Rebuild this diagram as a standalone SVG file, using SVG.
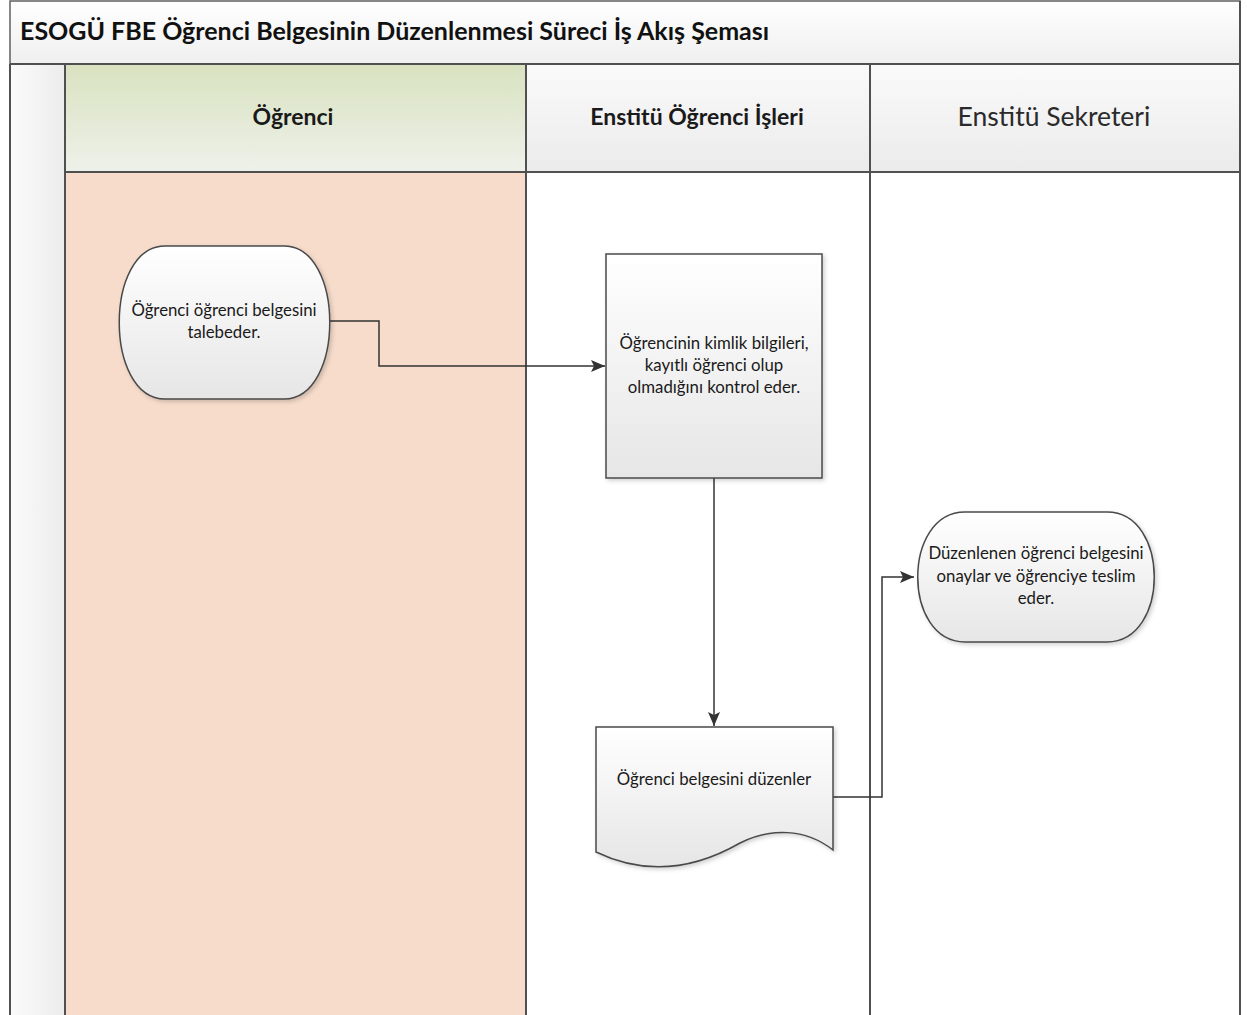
<svg xmlns="http://www.w3.org/2000/svg" width="1247" height="1015" viewBox="0 0 1247 1015">
  <style>
    .lane-line { stroke: #505050; stroke-width: 2; fill: none; }
    .shape { fill: url(#shapeFill); stroke: #4a4a4a; stroke-width: 1.5; filter: url(#shadow); }
    .label { font-family: Lato, "Open Sans", "DejaVu Sans", sans-serif; font-size: 16.8px; fill: #1a1a1a; text-anchor: middle; }
    .head { font-family: Lato, "Open Sans", "DejaVu Sans", sans-serif; font-size: 23px; fill: #1a1a1a; text-anchor: middle; }
    .head-light { font-size: 26.5px; fill: #2a2a2a; }
    .title { font-family: Lato, "Open Sans", "DejaVu Sans", sans-serif; font-size: 25px; font-weight: bold; fill: #111; }
    .conn { stroke: #333; stroke-width: 1.5; fill: none; marker-end: url(#arrow); }
  </style>
  <defs>
    <linearGradient id="shapeFill" x1="0" y1="0" x2="0" y2="1">
      <stop offset="0" stop-color="#ffffff"/>
      <stop offset="1" stop-color="#e6e6e6"/>
    </linearGradient>
    <linearGradient id="greyHead" x1="0" y1="0" x2="0" y2="1">
      <stop offset="0" stop-color="#fafafa"/>
      <stop offset="1" stop-color="#ebebeb"/>
    </linearGradient>
    <linearGradient id="greenHead" x1="0" y1="0" x2="0" y2="1">
      <stop offset="0" stop-color="#d8e2bf"/>
      <stop offset="1" stop-color="#eef1ea"/>
    </linearGradient>
    <linearGradient id="sideStrip" x1="0" y1="0" x2="1" y2="0">
      <stop offset="0" stop-color="#fbfbfb"/>
      <stop offset="1" stop-color="#ececec"/>
    </linearGradient>
    <linearGradient id="titleFill" x1="0" y1="0" x2="0" y2="1">
      <stop offset="0" stop-color="#ffffff"/>
      <stop offset="1" stop-color="#efefef"/>
    </linearGradient>
    <filter id="shadow" x="-10%" y="-10%" width="125%" height="125%">
      <feDropShadow dx="2" dy="2" stdDeviation="2" flood-color="#000" flood-opacity="0.18"/>
    </filter>
    <marker id="arrow" viewBox="0 0 14 12" refX="14" refY="6" markerWidth="14" markerHeight="12" markerUnits="userSpaceOnUse" orient="auto">
      <path d="M0,0 L14,6 L0,12 L3,6 Z" fill="#333"/>
    </marker>
  </defs>

  <!-- page background -->
  <rect x="0" y="0" width="1247" height="1015" fill="#ffffff"/>

  <!-- title bar -->
  <g id="title-bar">
    <rect x="10" y="1" width="1230" height="63" fill="url(#titleFill)" stroke="#606060" stroke-width="1.5"/>
    <text class="title" x="20" y="40">ESOGÜ FBE Öğrenci Belgesinin Düzenlenmesi Süreci İş Akış Şeması</text>
  </g>

  <!-- swimlanes -->
  <g id="lanes">
    <rect x="10" y="64" width="55" height="960" fill="url(#sideStrip)"/>
    <rect x="65" y="172" width="461" height="850" fill="#f7dccb"/>
    <rect x="526" y="172" width="344" height="850" fill="#ffffff"/>
    <rect x="870" y="172" width="370" height="850" fill="#ffffff"/>
    <rect x="65" y="64" width="461" height="108" fill="url(#greenHead)"/>
    <rect x="526" y="64" width="344" height="108" fill="url(#greyHead)"/>
    <rect x="870" y="64" width="370" height="108" fill="url(#greyHead)"/>
    <line class="lane-line" x1="10" y1="64" x2="10" y2="1015"/>
    <line class="lane-line" x1="65" y1="64" x2="65" y2="1015"/>
    <line class="lane-line" x1="526" y1="64" x2="526" y2="1015"/>
    <line class="lane-line" x1="870" y1="64" x2="870" y2="1015"/>
    <line class="lane-line" x1="1240" y1="1" x2="1240" y2="1015"/>
    <line class="lane-line" x1="65" y1="172" x2="1240" y2="172"/>
    <line class="lane-line" x1="10" y1="64" x2="1240" y2="64"/>
    <text class="head" x="293" y="125" font-weight="bold">Öğrenci</text>
    <text class="head" x="697" y="125" font-weight="bold">Enstitü Öğrenci İşleri</text>
    <text class="head head-light" x="1054" y="126">Enstitü Sekreteri</text>
  </g>

  <!-- connectors -->
  <g id="connectors">
    <path class="conn" d="M330,321 H379 V366 H605"/>
    <path class="conn" d="M714,478 V726"/>
    <path class="conn" d="M833,797 H882 V577 H914"/>
  </g>

  <!-- student request -->
  <g id="node-request">
    <path class="shape" d="M165,246 H284 C345,246 345,399 284,399 H165 C104,399 104,246 165,246 Z"/>
    <text class="label" x="224" y="316">Öğrenci öğrenci belgesini</text>
    <text class="label" x="224" y="338">talebeder.</text>
  </g>

  <!-- identity check -->
  <g id="node-check">
    <rect class="shape" x="606" y="254" width="216" height="224"/>
    <text class="label" x="714" y="349">Öğrencinin kimlik bilgileri,</text>
    <text class="label" x="714" y="371">kayıtlı öğrenci olup</text>
    <text class="label" x="714" y="393">olmadığını kontrol eder.</text>
  </g>

  <!-- document preparation -->
  <g id="node-document">
    <path class="shape" d="M596,727 H833 V850 C805,828 770,828 740,843 C700,866 650,878 596,852 Z"/>
    <text class="label" x="714" y="785">Öğrenci belgesini düzenler</text>
  </g>

  <!-- approval and delivery -->
  <g id="node-approve">
    <path class="shape" d="M965,512 H1107 C1170,512 1170,642 1107,642 H965 C902,642 902,512 965,512 Z"/>
    <text class="label" x="1036" y="559">Düzenlenen öğrenci belgesini</text>
    <text class="label" x="1036" y="582">onaylar ve öğrenciye teslim</text>
    <text class="label" x="1036" y="604">eder.</text>
  </g>
</svg>
